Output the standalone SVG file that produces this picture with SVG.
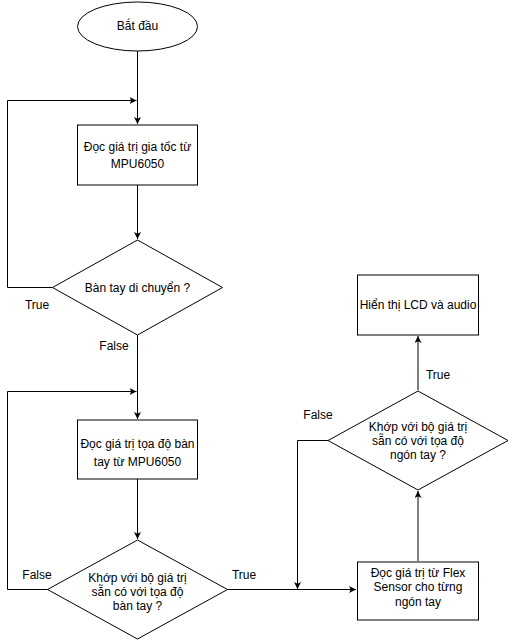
<svg xmlns="http://www.w3.org/2000/svg" width="508" height="641" viewBox="0 0 508 641">
<style>
.s{fill:#fff;stroke:#000;stroke-width:1}
.c{fill:none;stroke:#000;stroke-width:1}
text{font-family:"Liberation Sans",Arial,sans-serif;font-size:12px;fill:#000}
.m{text-anchor:middle}
</style>
<defs>
<marker id="a" viewBox="0 0 10 10" refX="10" refY="5" markerWidth="7" markerHeight="7" markerUnits="userSpaceOnUse" orient="auto">
<path d="M0,0 L10,5 L0,10 L2.5,5 Z" fill="#000"/>
</marker>
</defs>
<rect width="508" height="641" fill="#fff"/>
<g id="connectors">
<path class="c" d="M137.5,51 V124" marker-end="url(#a)"/>
<path class="c" d="M52.5,287.5 H7.5 V100.5 H136.5" marker-end="url(#a)"/>
<path class="c" d="M137.5,185 V239" marker-end="url(#a)"/>
<path class="c" d="M137.5,335 V419" marker-end="url(#a)"/>
<path class="c" d="M47.5,589.5 H7.5 V391.5 H136.5" marker-end="url(#a)"/>
<path class="c" d="M137.5,479 V539" marker-end="url(#a)"/>
<path class="c" d="M227.5,589.5 H356" marker-end="url(#a)"/>
<path class="c" d="M328,440.5 H297.5 V589" marker-end="url(#a)"/>
<path class="c" d="M418,561 V491" marker-end="url(#a)"/>
<path class="c" d="M418,390 V336" marker-end="url(#a)"/>
<text x="37" y="309" class="m">True</text>
<text x="114" y="350" class="m">False</text>
<text x="37" y="579" class="m">False</text>
<text x="244" y="579" class="m">True</text>
<text x="438" y="379" class="m">True</text>
<text x="318" y="419" class="m">False</text>
</g>
<g id="start">
<ellipse class="s" cx="137.5" cy="26.5" rx="60" ry="24.5"/>
<text x="137.5" y="30" class="m">Bắt đầu</text>
</g>
<g id="read-accel">
<rect class="s" x="77.5" y="125" width="120" height="60"/>
<text x="137.5" y="151" class="m">Đọc giá trị gia tốc từ</text>
<text x="137.5" y="168" class="m">MPU6050</text>
</g>
<g id="hand-moving">
<polygon class="s" points="137.5,240 222.5,287.5 137.5,335 52.5,287.5"/>
<text x="137.5" y="292" class="m">Bàn tay di chuyển ?</text>
</g>
<g id="read-coords">
<rect class="s" x="77.5" y="420" width="120" height="59"/>
<text x="137.5" y="448" class="m">Đọc giá trị tọa độ bàn</text>
<text x="137.5" y="466" class="m">tay từ MPU6050</text>
</g>
<g id="match-hand">
<polygon class="s" points="137.5,540 227.5,589.5 137.5,639 47.5,589.5"/>
<text x="137.5" y="582" class="m">Khớp với bộ giá trị</text>
<text x="137.5" y="596" class="m">sẵn có với tọa độ</text>
<text x="137.5" y="610" class="m">bàn tay ?</text>
</g>
<g id="read-flex">
<rect class="s" x="357.5" y="562" width="121" height="58"/>
<text x="418" y="577" class="m">Đọc giá trị từ Flex</text>
<text x="418" y="591" class="m">Sensor cho từng</text>
<text x="418" y="606" class="m">ngón tay</text>
</g>
<g id="match-finger">
<polygon class="s" points="418,391 508,440.5 418,490 328,440.5"/>
<text x="418" y="431" class="m">Khớp với bộ giá trị</text>
<text x="418" y="445" class="m">sẵn có với tọa độ</text>
<text x="418" y="459" class="m">ngón tay ?</text>
</g>
<g id="display">
<rect class="s" x="357.5" y="275" width="121" height="60"/>
<text x="418" y="309" class="m">Hiển thị LCD và audio</text>
</g>
</svg>
